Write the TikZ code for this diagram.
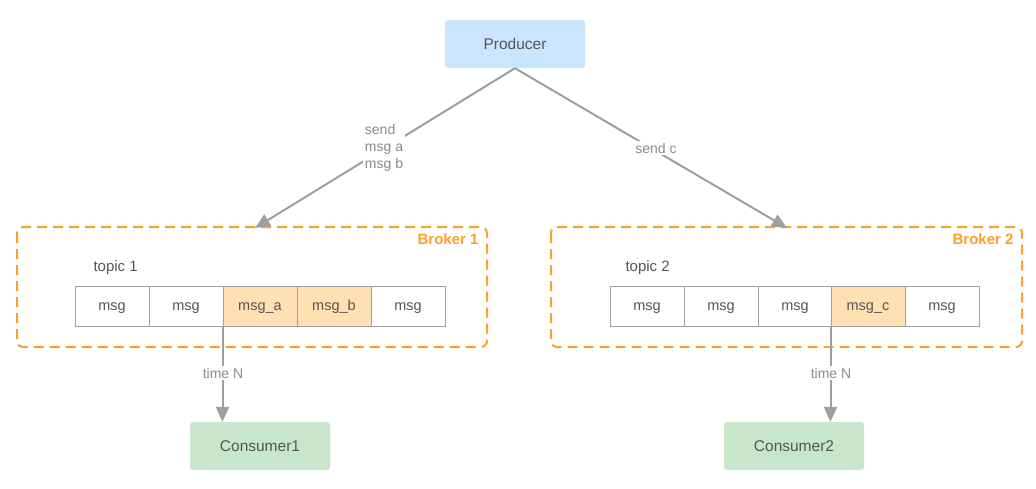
\documentclass[tikz,border=0pt]{standalone}
\usepackage{fontspec}
\setmainfont{Liberation Sans}
\usetikzlibrary{arrows.meta}
\definecolor{txt}{HTML}{555555}
\definecolor{ln}{HTML}{9E9E9E}
\definecolor{lbltxt}{HTML}{8A8A8A}
\definecolor{prodfill}{HTML}{CCE5FF}
\definecolor{consfill}{HTML}{C8E6C9}
\definecolor{hl}{HTML}{FFE0B2}
\definecolor{brk}{HTML}{F9A12E}
\definecolor{cellln}{HTML}{A0A0A0}
\begin{document}
\begin{tikzpicture}[x=1pt,y=-1pt,
  every node/.style={font=\fontsize{14.5}{17}\selectfont, text=txt},
  topbox/.style={draw=none, rounded corners=3pt, minimum width=140pt, minimum height=48pt, inner sep=0pt, font=\fontsize{15.5}{18}\selectfont, text height=11pt, text depth=0pt},
  cell/.style={draw=cellln, line width=1pt, minimum width=74pt, minimum height=40pt, inner sep=0pt, fill=white, text height=9pt, text depth=0pt},
  hcell/.style={cell, fill=hl},
  broker/.style={draw=brk, line width=2pt, dash pattern=on 10pt off 6pt, rounded corners=6pt},
  blabel/.style={text=brk, font=\fontsize{15}{18}\selectfont\bfseries},
  conn/.style={draw=ln, line width=2pt, -{Triangle[length=15pt,width=13pt]}},
  lbl/.style={fill=white, inner sep=2pt, font=\fontsize{14}{17}\selectfont, text=lbltxt, align=left}
]
\useasboundingbox (0,0) rectangle (1036,488);

% Producer
\node[topbox, fill=prodfill] (prod) at (515,44) {Producer};

% Brokers
\draw[broker] (17,227) rectangle (487,347);
\draw[broker] (551,227) rectangle (1022,347);
\node[blabel, anchor=east] (b1) at (482,239) {Broker 1};
\node[blabel, anchor=east] (b2) at (1017,239) {Broker 2};
\coordinate (b1top) at (255,228);
\coordinate (b2top) at (787,228);

% topics
\node[anchor=west, font=\fontsize{15}{18}\selectfont] (t1) at (90,268) {topic 1};
\node[anchor=west, font=\fontsize{15}{18}\selectfont] (t2) at (622,268) {topic 2};

% cells broker 1
\node[cell]  (a1) at (112,306) {msg};
\node[cell]  (a2) at (186,306) {msg};
\node[hcell] (a3) at (260,306) {msg\_a};
\node[hcell] (a4) at (334,306) {msg\_b};
\node[cell]  (a5) at (408,306) {msg};

% cells broker 2
\node[cell]  (c1) at (647,306) {msg};
\node[cell]  (c2) at (721,306) {msg};
\node[cell]  (c3) at (795,306) {msg};
\node[hcell] (c4) at (868,306) {msg\_c};
\node[cell]  (c5) at (942,306) {msg};

% Consumers
\node[topbox, fill=consfill] (cons1) at (260,446) {Consumer1};
\node[topbox, fill=consfill] (cons2) at (794,446) {Consumer2};

% connectors
\draw[conn] (prod.south) -- (b1top);
\draw[conn] (prod.south) -- (b2top);
\node[lbl, align=left] (l1) at (384,148) {send\\[0pt]msg a\\[0pt]msg b};
\node[lbl] (l2) at (656,148) {send c};

\draw[conn] (a3.south west) -- (a3.south west |- cons1.north);
\draw[conn] (c4.south west) -- (c4.south west |- cons2.north);
\node[lbl] (n1) at (223,373) {time N};
\node[lbl] (n2) at (831,373) {time N};
\end{tikzpicture}
\end{document}
